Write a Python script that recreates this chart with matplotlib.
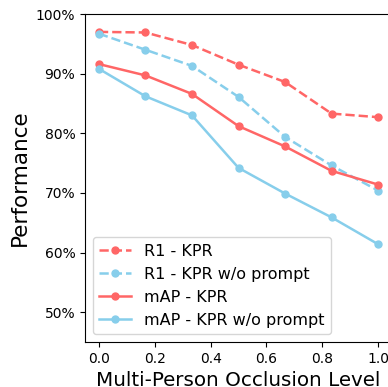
import matplotlib
matplotlib.use("Agg")
import matplotlib.pyplot as plt
from matplotlib.ticker import PercentFormatter

# occlusion levels and scores (%)
levels = [0, 1/6, 2/6, 3/6, 4/6, 5/6, 1.0]
r1_kpr = [97.0, 96.9, 94.8, 91.5, 88.6, 83.3, 82.7]
r1_noprompt = [96.7, 94.0, 91.3, 86.1, 79.4, 74.6, 70.4]
map_kpr = [91.6, 89.7, 86.6, 81.2, 77.8, 73.7, 71.4]
map_noprompt = [90.8, 86.2, 83.0, 74.2, 69.9, 65.9, 61.4]

red = "#ff6666"
blue = "#87ceeb"

fig = plt.figure(figsize=(3.88, 3.87), dpi=100)
# axes deliberately run past the right/bottom edge like the cropped original
ax = fig.add_axes([85/388, 45/387, 307/388, 328/387])

ax.plot(levels, r1_kpr, "--o", color=red, lw=1.8, ms=5, label="R1 - KPR")
ax.plot(levels, r1_noprompt, "--o", color=blue, lw=1.8, ms=5, label="R1 - KPR w/o prompt")
ax.plot(levels, map_kpr, "-o", color=red, lw=1.8, ms=5, label="mAP - KPR")
ax.plot(levels, map_noprompt, "-o", color=blue, lw=1.8, ms=5, label="mAP - KPR w/o prompt")

ax.set_xlim(-0.05, 1.05)
ax.set_ylim(45, 100)
ax.set_yticks([50, 60, 70, 80, 90, 100])
ax.yaxis.set_major_formatter(PercentFormatter(decimals=0))
ax.tick_params(labelsize=10)
ax.set_xlabel("Multi-Person Occlusion Level", fontsize=14.3)
ax.set_ylabel("Performance", fontsize=15.5)
ax.legend(loc="lower left", fontsize=11.5)

fig.savefig("out.png", dpi=100)
